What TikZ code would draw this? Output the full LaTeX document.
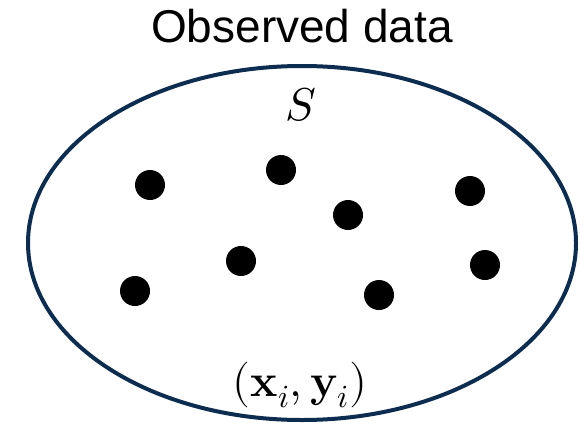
\documentclass[tikz,border=0pt]{standalone}
\usepackage{fontspec}
\usepackage{unicode-math}
\setmathfont{Latin Modern Math}
\usetikzlibrary{shapes.geometric}
\newfontfamily\arialfont{Liberation Sans}
\definecolor{navy}{RGB}{12,45,80}
\tikzset{
  datapt/.style={circle, fill=black, draw=none, inner sep=0pt, minimum size=30pt},
  setring/.style={ellipse, draw=navy, line width=4pt, inner sep=0pt,
                  minimum width=548pt, minimum height=354pt},
}
\begin{document}
\begin{tikzpicture}[x=1pt, y=-1pt]
\useasboundingbox (0,0) rectangle (580,428);
% the sample S, drawn in pixel units of the reference
\node[setring] (set) at (302,243) {};
\node[anchor=base, font=\arialfont\fontsize{46}{50}\selectfont] (title) at (302,43)
  {Observed data};
\node[anchor=base, font=\fontsize{46}{50}\selectfont] (setname) at (301,120) {$S$};
\node[anchor=base, font=\fontsize{46}{50}\selectfont] (pair) at (300,396)
  {$(\mathbf{x}_i,\mathbf{y}_i)$};

% observed points
\node[datapt] (p1) at (150,185) {};
\node[datapt] (p2) at (281,170) {};
\node[datapt] (p3) at (348,215) {};
\node[datapt] (p4) at (470,191) {};
\node[datapt] (p5) at (241,261) {};
\node[datapt] (p6) at (135,291) {};
\node[datapt] (p7) at (379,295) {};
\node[datapt] (p8) at (485,265) {};
\end{tikzpicture}
\end{document}
